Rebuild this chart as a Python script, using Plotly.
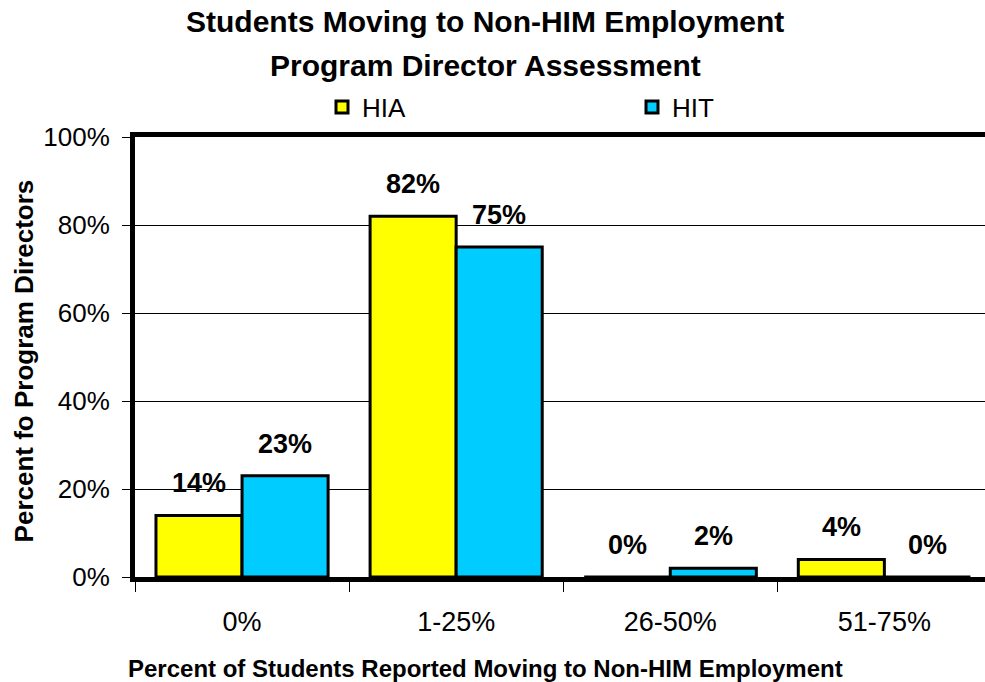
import plotly.graph_objects as go

categories = ["0%", "1-25%", "26-50%", "51-75%"]
hia = [14, 82, 0, 4]
hit = [23, 75, 2, 0]
y_ticks = [0, 20, 40, 60, 80, 100]
y_tick_labels = ["0%", "20%", "40%", "60%", "80%", "100%"]

FONT = "Liberation Sans, Arial, sans-serif"
YELLOW = "#FFFF00"
CYAN = "#00CCFF"

W, H = 985, 682
L, R, T, B = 135, 0, 137, 105
PW, PH = W - L - R, H - T - B

def px_x(x):
    return (x - L) / PW

def px_y(y):
    return (H - B - y) / PH

fig = go.Figure()
fig.add_trace(go.Bar(name="HIA", x=categories, y=hia, marker=dict(color=YELLOW, line=dict(color="black", width=3))))
fig.add_trace(go.Bar(name="HIT", x=categories, y=hit, marker=dict(color=CYAN, line=dict(color="black", width=3))))

# data labels
for series, shift in ((hia, -43), (hit, 43)):
    for c, v in zip(categories, series):
        fig.add_annotation(x=c, y=v, xref="x", yref="y", text=f"<b>{v}%</b>",
                           showarrow=False, xshift=shift, yshift=32, xanchor="center", yanchor="middle",
                           font=dict(family=FONT, size=27, color="black"))

# titles
fig.add_annotation(xref="paper", yref="paper", x=px_x(485), y=px_y(22), xanchor="center", yanchor="middle",
                   text="<b>Students Moving to Non-HIM Employment</b>", showarrow=False,
                   font=dict(family=FONT, size=30, color="black"))
fig.add_annotation(xref="paper", yref="paper", x=px_x(485), y=px_y(65), xanchor="center", yanchor="middle",
                   text="<b>Program Director Assessment</b>", showarrow=False,
                   font=dict(family=FONT, size=30, color="black"))

fig.add_annotation(xref="paper", yref="paper", x=px_x(24), y=0.49, xanchor="center", yanchor="middle",
                   text="<b>Percent fo Program Directors</b>",
                   textangle=-90, showarrow=False, font=dict(family=FONT, size=26, color="black"))
fig.add_annotation(xref="paper", yref="paper", x=px_x(485), y=px_y(668), xanchor="center", yanchor="middle",
                   text="<b>Percent of Students Reported Moving to Non-HIM Employment</b>",
                   showarrow=False, font=dict(family=FONT, size=24, color="black"))

fig.update_layout(
    width=W, height=H,
    margin=dict(l=L, r=R, t=T, b=B),
    paper_bgcolor="white", plot_bgcolor="white",
    barmode="group", bargap=0.196, bargroupgap=0,
    legend=dict(orientation="h", x=px_x(322), xanchor="left", y=px_y(107), yanchor="middle",
                entrywidth=265, entrywidthmode="pixels",
                font=dict(family=FONT, size=26, color="black"), bgcolor="rgba(0,0,0,0)"),
    showlegend=True,
)
fig.update_xaxes(range=[-0.5, 3.47], tickson="boundaries", ticks="outside", ticklen=10, tickwidth=1,
                 tickcolor="black", showline=True, linecolor="black", linewidth=5, mirror=True,
                 showgrid=False, tickfont=dict(family=FONT, size=27, color="black"),
                 ticklabelstandoff=17, fixedrange=True)
fig.update_yaxes(range=[0, 100], tickvals=y_ticks, ticktext=y_tick_labels, ticks="outside", ticklen=8,
                 tickwidth=1, tickcolor="black", showline=True, linecolor="black", linewidth=5,
                 showgrid=True, gridcolor="black", gridwidth=1, zeroline=False,
                 tickfont=dict(family=FONT, size=26, color="black"), ticklabelstandoff=7)

fig.write_html("out.html")
